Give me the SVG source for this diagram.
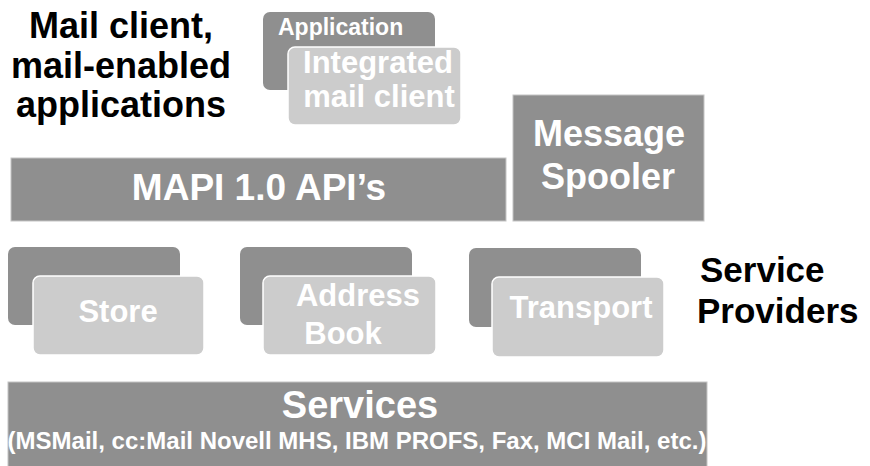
<svg xmlns="http://www.w3.org/2000/svg" width="870" height="466" viewBox="0 0 870 466">
<style>
text{font-family:"Liberation Sans",Arial,sans-serif;font-weight:bold}
.dark{fill:#8f8f8f}
.light{fill:#cccccc;stroke:#ffffff;stroke-width:1.5}
.bar{fill:#8f8f8f;stroke:#c4c4c4;stroke-width:1}
.w{fill:#ffffff}
.k{fill:#000000}
</style>
<rect width="870" height="466" fill="#ffffff"/>
<g id="label-mail-client">
<text class="k" x="121" y="38" font-size="36" text-anchor="middle">Mail client,</text>
<text class="k" x="121" y="78" font-size="36" text-anchor="middle">mail-enabled</text>
<text class="k" x="121" y="117" font-size="36" text-anchor="middle">applications</text>
</g>
<g id="application">
<rect class="dark" x="263" y="12" width="172" height="78" rx="7"/>
<text class="w" x="278" y="35" font-size="23">Application</text>
</g>
<g id="integrated-mail-client">
<rect class="light" x="288" y="47" width="173" height="78" rx="7"/>
<text class="w" x="378" y="73" font-size="31" text-anchor="middle">Integrated</text>
<text class="w" x="379" y="107" font-size="31" text-anchor="middle">mail client</text>
</g>
<g id="mapi">
<rect class="bar" x="11" y="158" width="495" height="63"/>
<text class="w" x="259" y="200" font-size="37" text-anchor="middle">MAPI 1.0 API’s</text>
</g>
<g id="message-spooler">
<rect class="bar" x="513" y="95" width="191" height="126"/>
<text class="w" x="609" y="146" font-size="36" text-anchor="middle">Message</text>
<text class="w" x="608" y="189" font-size="36" text-anchor="middle">Spooler</text>
</g>
<g id="store">
<rect class="dark" x="8" y="247" width="172" height="78" rx="7"/>
<rect class="light" x="33" y="276" width="171" height="79" rx="7"/>
<text class="w" x="118" y="322" font-size="31" text-anchor="middle">Store</text>
</g>
<g id="address-book">
<rect class="dark" x="240" y="247" width="172" height="78" rx="7"/>
<rect class="light" x="263" y="276" width="173" height="79" rx="7"/>
<text class="w" x="358" y="306" font-size="31" text-anchor="middle">Address</text>
<text class="w" x="343" y="344" font-size="31" text-anchor="middle">Book</text>
</g>
<g id="transport">
<rect class="dark" x="469" y="248" width="172" height="79" rx="7"/>
<rect class="light" x="492" y="277" width="172" height="80" rx="7"/>
<text class="w" x="581" y="318" font-size="31" text-anchor="middle">Transport</text>
</g>
<g id="label-service-providers">
<text class="k" x="700" y="282" font-size="35">Service</text>
<text class="k" x="697" y="323" font-size="35">Providers</text>
</g>
<g id="services">
<rect class="bar" x="8" y="382" width="699" height="86"/>
<text class="w" x="360" y="418" font-size="38" text-anchor="middle">Services</text>
<text class="w" x="357" y="449" font-size="24" text-anchor="middle">(MSMail, cc:Mail Novell MHS, IBM PROFS, Fax, MCI Mail, etc.)</text>
</g>
<g id="connectors"></g>
</svg>
